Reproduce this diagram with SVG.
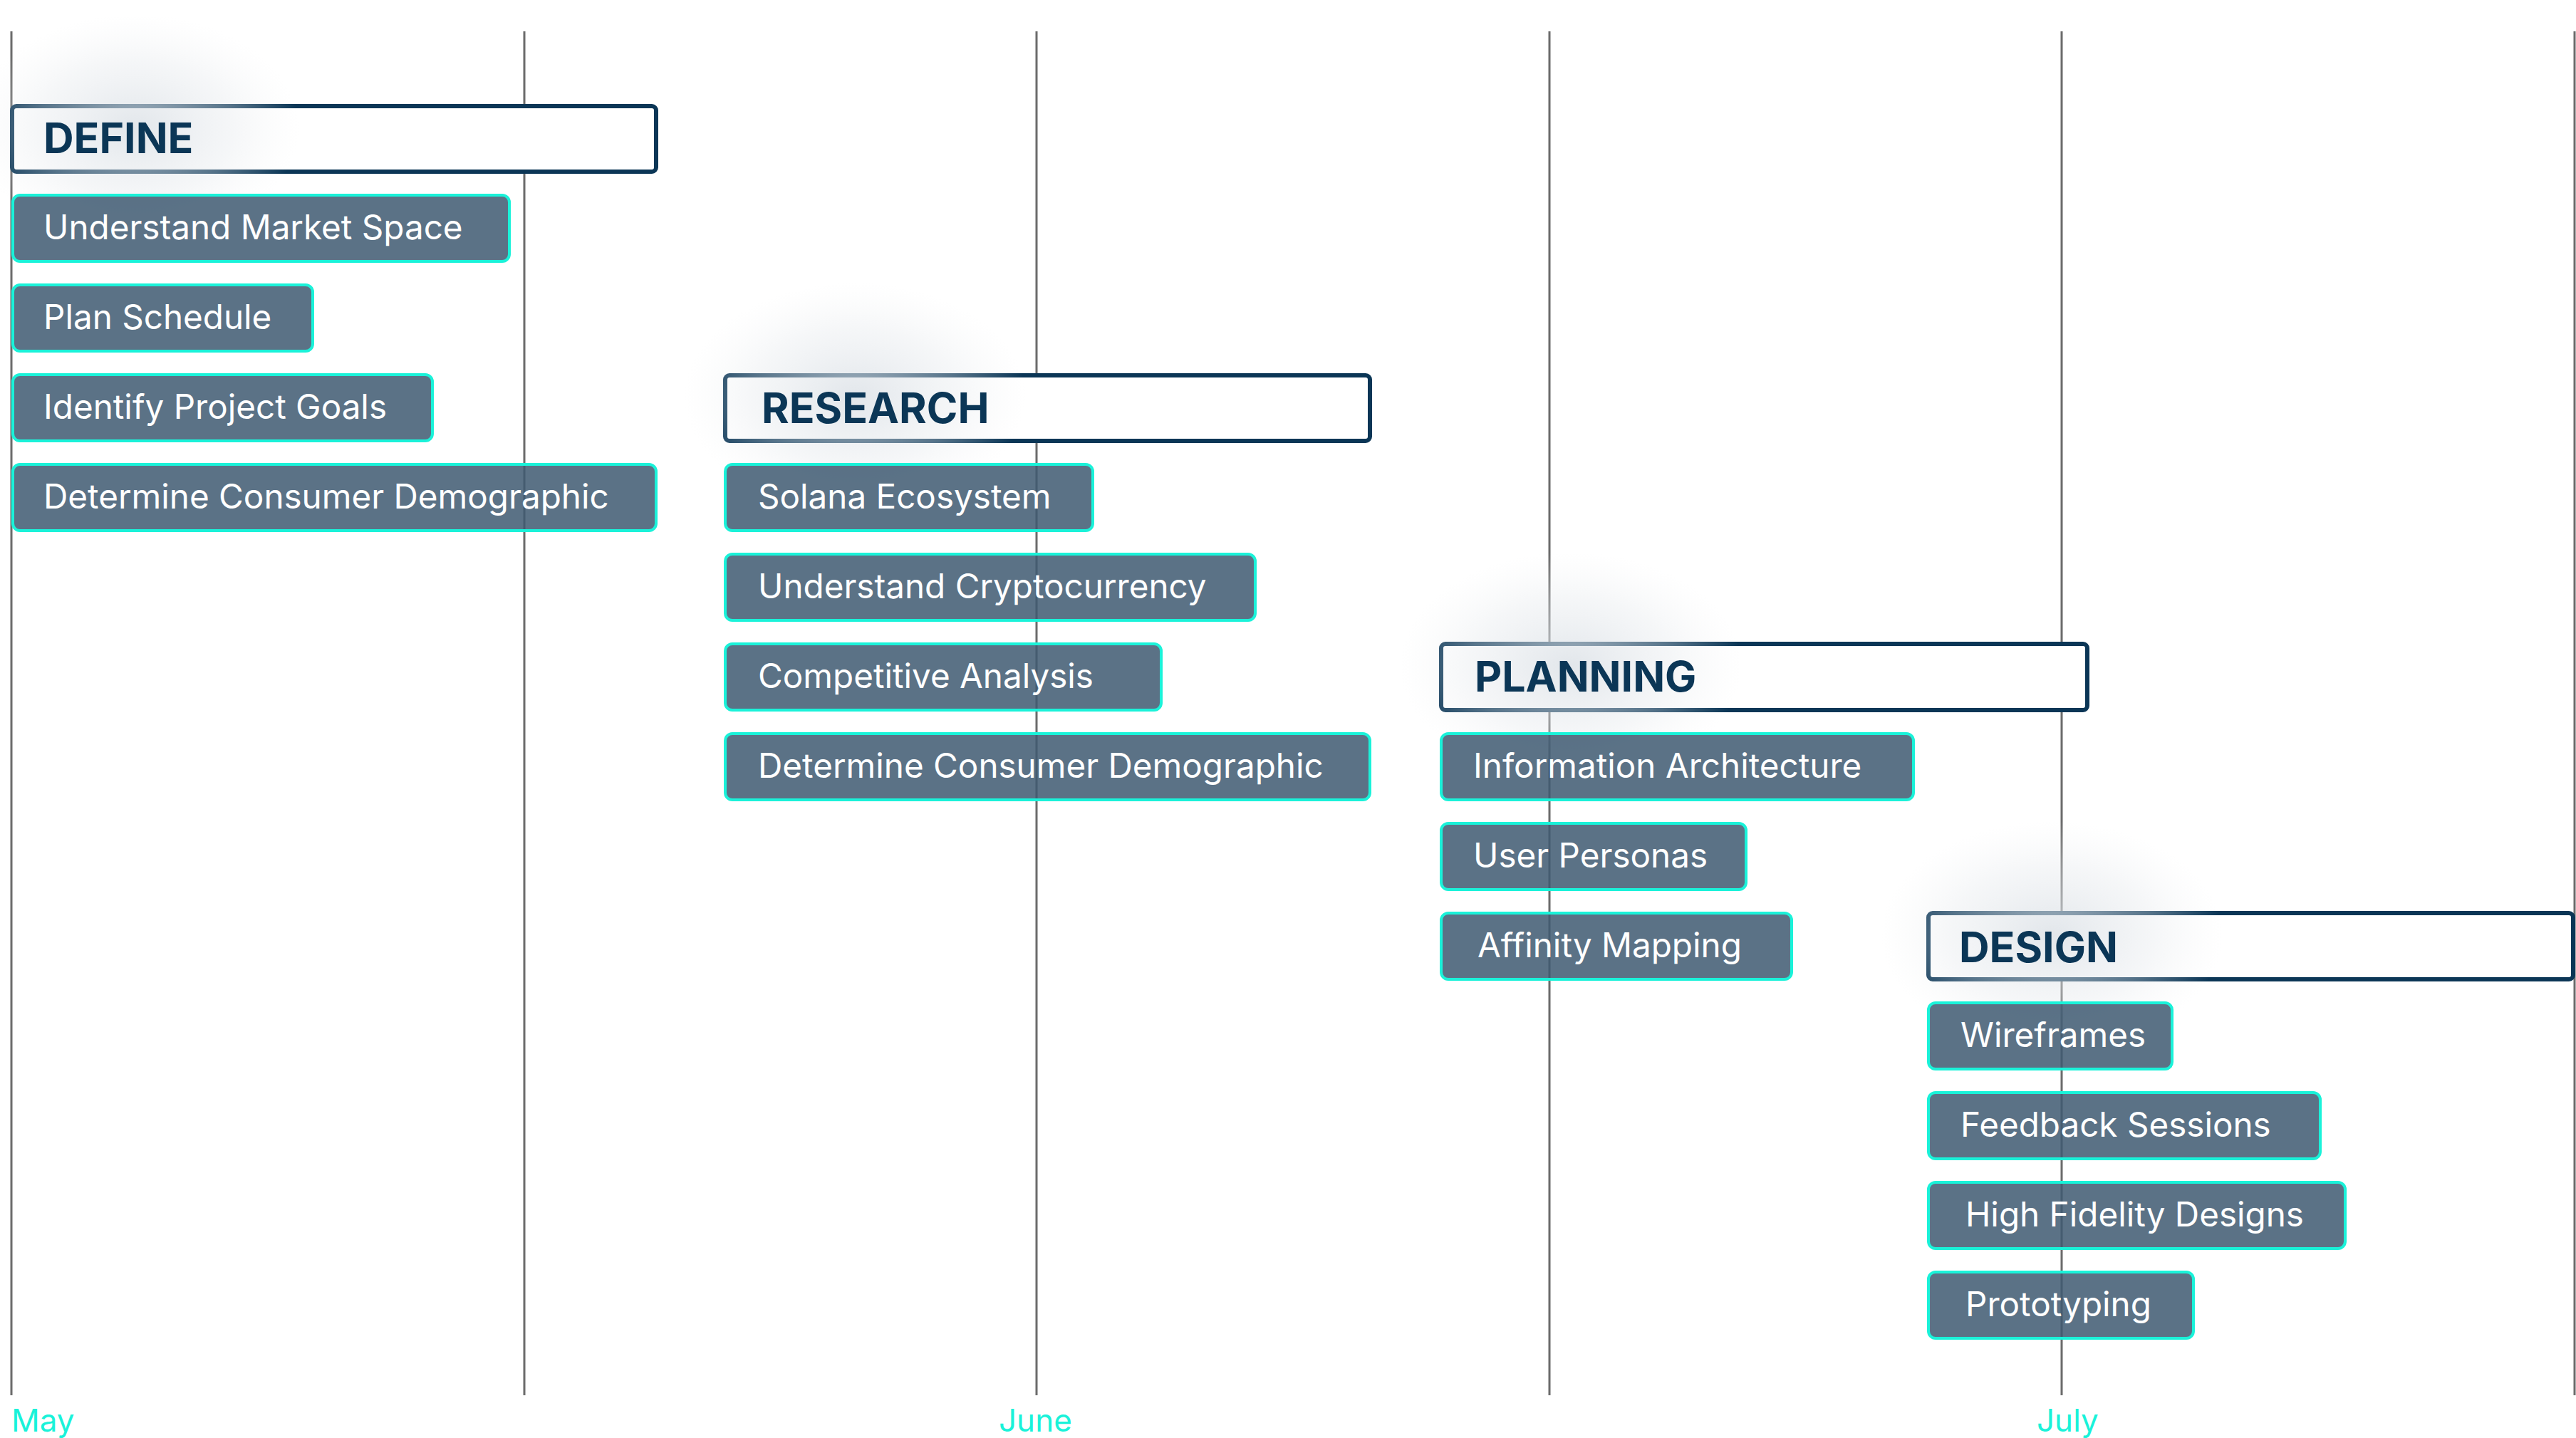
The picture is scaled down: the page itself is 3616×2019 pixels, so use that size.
<svg xmlns="http://www.w3.org/2000/svg" width="3616" height="2019" viewBox="0 0 3616 2019">
<style>
.vl{stroke:#6b6b6b;stroke-width:3}
.hdr{fill:#ffffff;stroke:#0b3656;stroke-width:6}
.hdrt{font-family:Inter,"Liberation Sans",sans-serif;font-weight:700;font-size:59px;fill:#0b3656}
.task{fill:#3f5a71;fill-opacity:0.855;stroke:#1af2d9;stroke-width:4}
.taskt{font-family:Inter,"Liberation Sans",sans-serif;font-size:47.6px;fill:#ffffff}
.mon{font-family:Inter,"Liberation Sans",sans-serif;font-size:44px;fill:#1af2d9}
</style>
<defs>
<radialGradient id="glow" cx="0.5" cy="0.5" r="0.5">
<stop offset="0" stop-color="#d8dee4" stop-opacity="0.75"/>
<stop offset="0.6" stop-color="#e3e7eb" stop-opacity="0.35"/>
<stop offset="1" stop-color="#eef0f2" stop-opacity="0"/>
</radialGradient>
</defs>
<rect width="3616" height="2019" fill="#ffffff"/>
<g id="connectors">
<line class="vl" x1="16" y1="44" x2="16" y2="1959"/>
<line class="vl" x1="736" y1="44" x2="736" y2="1959"/>
<line class="vl" x1="1455" y1="44" x2="1455" y2="1959"/>
<line class="vl" x1="2175" y1="44" x2="2175" y2="1959"/>
<line class="vl" x1="2894" y1="44" x2="2894" y2="1959"/>
<line class="vl" x1="3614" y1="44" x2="3614" y2="1959"/>
</g>
<g id="months">
<text class="mon" x="16" y="2010">May</text>
<text class="mon" x="1402" y="2010">June</text>
<text class="mon" x="2859" y="2010">July</text>
</g>
<g id="define">
<rect class="hdr" x="17" y="149" width="904" height="92" rx="6"/>
<ellipse cx="190" cy="180" rx="230" ry="160" fill="url(#glow)"/>
<text class="hdrt" x="61" y="215">DEFINE</text>
</g>
<g id="research">
<rect class="hdr" x="1018" y="527" width="905" height="92" rx="6"/>
<ellipse cx="1200" cy="557" rx="240" ry="160" fill="url(#glow)"/>
<text class="hdrt" x="1069" y="594">RESEARCH</text>
</g>
<g id="planning">
<rect class="hdr" x="2023" y="904" width="907" height="93" rx="6"/>
<ellipse cx="2205" cy="935" rx="240" ry="160" fill="url(#glow)"/>
<text class="hdrt" x="2070" y="971">PLANNING</text>
</g>
<g id="design">
<rect class="hdr" x="2707" y="1282" width="905" height="93" rx="6"/>
<ellipse cx="2880" cy="1313" rx="240" ry="160" fill="url(#glow)"/>
<text class="hdrt" x="2750" y="1351">DESIGN</text>
</g>
<g id="t-understand-market"><rect class="task" x="18" y="274" width="697" height="93" rx="10"/><text class="taskt" x="61" y="336">Understand Market Space</text></g>
<g id="t-plan-schedule"><rect class="task" x="18" y="400" width="421" height="93" rx="10"/><text class="taskt" x="61" y="462">Plan Schedule</text></g>
<g id="t-identify-goals"><rect class="task" x="18" y="526" width="589" height="93" rx="10"/><text class="taskt" x="61" y="588">Identify Project Goals</text></g>
<g id="t-determine-1"><rect class="task" x="18" y="652" width="903" height="93" rx="10"/><text class="taskt" x="61" y="714">Determine Consumer Demographic</text></g>
<g id="t-solana"><rect class="task" x="1018" y="652" width="516" height="93" rx="10"/><text class="taskt" x="1064" y="714">Solana Ecosystem</text></g>
<g id="t-crypto"><rect class="task" x="1018" y="778" width="744" height="93" rx="10"/><text class="taskt" x="1064" y="840">Understand Cryptocurrency</text></g>
<g id="t-competitive"><rect class="task" x="1018" y="904" width="612" height="93" rx="10"/><text class="taskt" x="1064" y="966">Competitive Analysis</text></g>
<g id="t-determine-2"><rect class="task" x="1018" y="1030" width="905" height="93" rx="10"/><text class="taskt" x="1064" y="1092">Determine Consumer Demographic</text></g>
<g id="t-info-arch"><rect class="task" x="2023" y="1030" width="663" height="93" rx="10"/><text class="taskt" x="2068" y="1092">Information Architecture</text></g>
<g id="t-personas"><rect class="task" x="2023" y="1156" width="428" height="93" rx="10"/><text class="taskt" x="2068" y="1218">User Personas</text></g>
<g id="t-affinity"><rect class="task" x="2023" y="1282" width="492" height="93" rx="10"/><text class="taskt" x="2074" y="1344">Affinity Mapping</text></g>
<g id="t-wireframes"><rect class="task" x="2707" y="1408" width="342" height="93" rx="10"/><text class="taskt" x="2752" y="1470">Wireframes</text></g>
<g id="t-feedback"><rect class="task" x="2707" y="1534" width="550" height="93" rx="10"/><text class="taskt" x="2752" y="1596">Feedback Sessions</text></g>
<g id="t-hifi"><rect class="task" x="2707" y="1660" width="585" height="93" rx="10"/><text class="taskt" x="2759" y="1722">High Fidelity Designs</text></g>
<g id="t-proto"><rect class="task" x="2707" y="1786" width="372" height="93" rx="10"/><text class="taskt" x="2759" y="1848">Prototyping</text></g>
</svg>
